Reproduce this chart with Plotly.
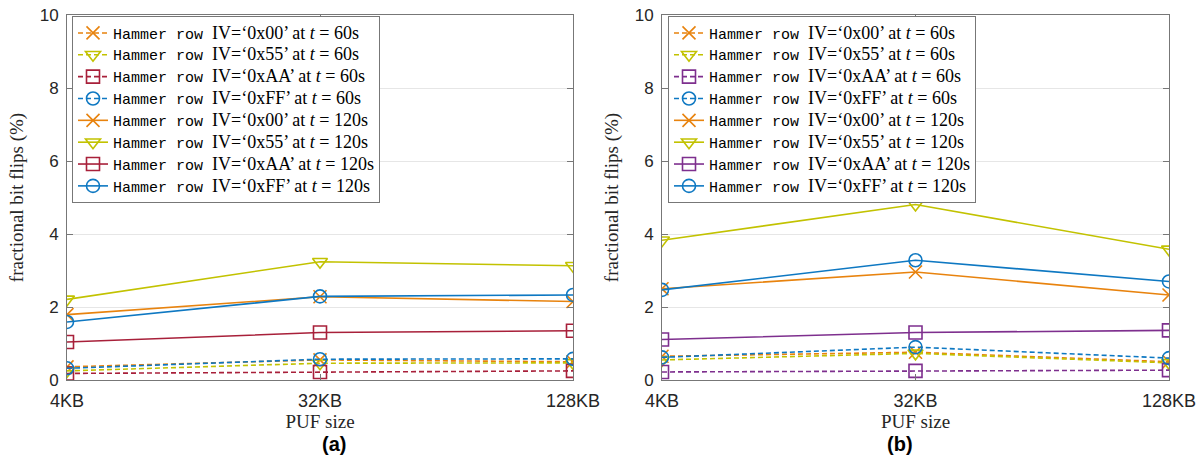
import plotly.graph_objects as go

sizes = ["4KB", "32KB", "128KB"]
patterns = ["0x00", "0x55", "0xAA", "0xFF"]

# Panel (a)
a_60 = {
    "0x00": [0.36, 0.55, 0.50],
    "0x55": [0.25, 0.46, 0.47],
    "0xAA": [0.18, 0.22, 0.25],
    "0xFF": [0.32, 0.57, 0.58],
}
a_120 = {
    "0x00": [1.79, 2.28, 2.15],
    "0x55": [2.21, 3.24, 3.13],
    "0xAA": [1.04, 1.30, 1.35],
    "0xFF": [1.59, 2.29, 2.33],
}
# Panel (b)
b_60 = {
    "0x00": [0.65, 0.76, 0.50],
    "0x55": [0.55, 0.73, 0.47],
    "0xAA": [0.22, 0.25, 0.27],
    "0xFF": [0.62, 0.90, 0.60],
}
b_120 = {
    "0x00": [2.50, 2.96, 2.33],
    "0x55": [3.83, 4.81, 3.58],
    "0xAA": [1.11, 1.30, 1.36],
    "0xFF": [2.47, 3.28, 2.70],
}

yticks = [0, 2, 4, 6, 8, 10]

symbols = {"0x00": "x-thin-open", "0x55": "triangle-down-open",
           "0xAA": "square-open", "0xFF": "circle-open"}
colors_a = {"0x00": "#E8830E", "0x55": "#C2C200", "0xAA": "#A8203A", "0xFF": "#0E78C2"}
colors_b = {"0x00": "#E8830E", "0x55": "#C2C200", "0xAA": "#7E2F8E", "0xFF": "#0E78C2"}

xs = list(range(len(sizes)))

def label(p, t):
    return ('<span style="font-family:\'Liberation Mono\';font-size:15px">Hammer row\u00a0</span>'
            '<span style="font-size:18px">IV=‘%s’ at <i>t</i>\u00a0=\u00a0%ss</span>' % (p, t))

fig = go.Figure()

def add_panel(d60, d120, colors, xa, ya, leg):
    for t, d, dash in (("60", d60, "5px,3px"), ("120", d120, "solid")):
        for p in patterns:
            c = colors[p]
            fig.add_trace(go.Scatter(
                x=xs, y=d[p], mode="lines+markers", name=label(p, t),
                xaxis=xa, yaxis=ya, legend=leg,
                line=dict(color=c, width=1.6, dash=dash),
                marker=dict(symbol=symbols[p], size=13,
                            color=c, line=dict(color=c, width=1.6)),
            ))

add_panel(a_60, a_120, colors_a, "x", "y", "legend")
add_panel(b_60, b_120, colors_b, "x2", "y2", "legend2")

W, H = 1196, 468
dom_a = [67 / W, 573 / W]
dom_b = [662 / W, 1169 / W]
ydom = [1 - 380 / H, 1 - 15 / H]

axis_common = dict(showline=True, linecolor="#777777", linewidth=1, mirror="ticks",
                   ticks="inside", ticklen=6, tickcolor="#777777", zeroline=False,
                   automargin=False, ticklabeloverflow="allow",
                   tickfont=dict(family="Liberation Sans", size=18, color="#262626"))

xcommon = dict(axis_common, range=[0, 2], tickvals=xs, ticktext=sizes, showgrid=False,
               ticklabelstandoff=4,
               title=dict(text="PUF size", standoff=0,
                          font=dict(family="Liberation Serif", size=19, color="#262626")))
ycommon = dict(axis_common, range=[0, 10], tickvals=yticks, showgrid=True,
               gridcolor="#E6E6E6", gridwidth=1, ticklabelstandoff=4,
               tickfont=dict(family="Liberation Sans", size=17, color="#262626"),
               title=dict(text="fractional bit flips (%)", standoff=11,
                          font=dict(family="Liberation Serif", size=19, color="#262626")))

legend_common = dict(bgcolor="white", bordercolor="#777777", borderwidth=1,
                     font=dict(family="Liberation Serif", size=14.5, color="black"),
                     xanchor="left", yanchor="top", tracegroupgap=0,
                     itemwidth=30, traceorder="normal")

fig.update_layout(
    width=W, height=H, margin=dict(l=0, r=0, t=0, b=0),
    paper_bgcolor="white", plot_bgcolor="white", showlegend=True,
    xaxis=dict(xcommon, domain=dom_a, anchor="y"),
    yaxis=dict(ycommon, domain=ydom, anchor="x"),
    xaxis2=dict(xcommon, domain=dom_b, anchor="y2"),
    yaxis2=dict(ycommon, domain=ydom, anchor="x2"),
    legend=dict(legend_common, x=72 / W, y=1 - 16 / H),
    legend2=dict(legend_common, x=668 / W, y=1 - 16 / H),
    annotations=[
        dict(text="<b>(a)</b>", x=(dom_a[0] + dom_a[1]) / 2, y=1 - 444 / H,
             xref="paper", yref="paper", showarrow=False, yanchor="middle",
             font=dict(family="Liberation Sans", size=20, color="black")),
        dict(text="<b>(b)</b>", x=(dom_b[0] + dom_b[1]) / 2, y=1 - 444 / H,
             xref="paper", yref="paper", showarrow=False, yanchor="middle",
             font=dict(family="Liberation Sans", size=20, color="black")),
    ],
)

fig.write_html("out.html")
